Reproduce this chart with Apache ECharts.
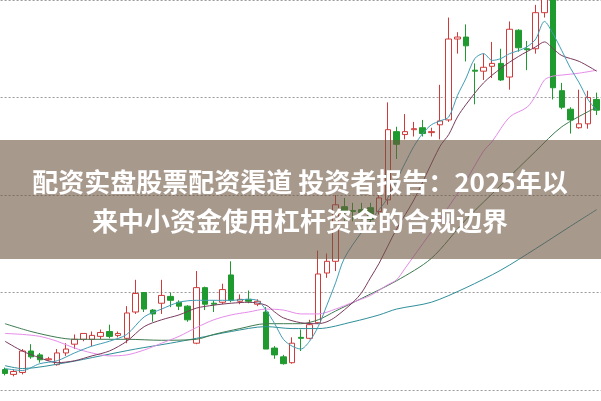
<!DOCTYPE html>
<html><head><meta charset="utf-8">
<script src="https://cdn.jsdelivr.net/npm/echarts@6/dist/echarts.min.js"></script>
<style>html,body{margin:0;padding:0;background:#fff}#c{width:601px;height:401px}</style>
</head><body><div id="c"></div>
<script>
// candles: [open, close, low, high]
const candles = [
[8.21,8.17,8.15,8.23],[8.16,8.19,8.14,8.21],[8.18,8.40,8.16,8.42],[8.40,8.34,8.32,8.47],[8.36,8.31,8.28,8.38],
[8.31,8.32,8.30,8.34],[8.26,8.38,8.25,8.42],[8.38,8.42,8.35,8.48],[8.47,8.52,8.42,8.57],[8.52,8.58,8.50,8.58],
[8.52,8.56,8.45,8.60],[8.55,8.59,8.52,8.62],[8.60,8.55,8.53,8.67],[8.56,8.58,8.54,8.60],[8.53,8.79,8.48,8.86],
[8.80,8.99,8.78,9.13],[9.00,8.83,8.80,9.00],[8.82,8.78,8.70,8.83],[8.89,8.97,8.78,9.13],[8.96,8.92,8.85,9.00],
[8.90,8.86,8.82,8.92],[8.86,8.72,8.70,8.87],[8.48,9.05,8.47,9.22],[9.05,8.88,8.82,9.06],[8.89,8.88,8.80,8.92],
[8.90,9.03,8.88,9.09],[9.18,8.92,8.90,9.32],[8.91,8.93,8.88,8.98],[8.93,8.91,8.89,9.02],[8.88,8.91,8.86,8.93],
[8.80,8.42,8.42,8.85],[8.43,8.36,8.32,8.45],[8.34,8.27,8.26,8.36],[8.28,8.48,8.27,8.54],[8.54,8.53,8.40,8.62],
[8.53,8.67,8.52,8.72],[8.69,9.19,8.68,9.43],[9.20,9.32,9.15,9.40],[9.32,9.90,9.22,10.00],[9.88,9.82,9.73,9.97],
[9.84,9.83,9.73,9.92],[9.85,9.82,9.75,9.92],[9.87,9.75,9.70,9.92],[9.83,9.97,9.80,10.03],[9.95,10.67,9.90,10.95],
[10.65,10.52,10.37,10.70],[10.62,10.65,10.57,10.83],[10.67,10.68,10.60,10.75],[10.69,10.63,10.60,10.77],[10.64,10.65,10.60,10.69],
[10.72,10.76,10.57,11.13],[10.77,11.60,10.75,11.82],[11.60,11.62,11.45,11.67],[11.62,11.53,11.37,11.75],[11.28,11.27,10.93,11.35],
[11.27,11.31,11.18,11.45],[11.32,11.35,11.20,11.57],[11.35,11.18,11.17,11.50],[11.21,11.70,11.08,11.78],[11.69,11.51,11.47,11.70],
[11.50,11.49,11.28,11.58],[11.50,11.87,11.45,11.95],[11.87,12.05,11.82,12.20],[12.00,11.10,10.98,12.10],[11.07,10.90,10.88,11.15],
[10.88,10.77,10.63,10.90],[10.69,10.73,10.68,11.08],[10.73,11.00,10.68,11.07],[10.98,10.87,10.82,11.05]
];
const categories = candles.map((_, i) => 'D' + (i + 1));
// moving-average lines: [candle index, value]
const maFast = [[0,8.22],[2,8.20],[4,8.27],[6,8.30],[8,8.38],[10,8.45],[12,8.50],[14,8.57],[16,8.75],[18,8.83],[20,8.90],[22,8.92],[24,8.92],[26,8.92],[28,8.93],[29,8.92],[30,8.82],[31,8.68],[32,8.52],[33,8.45],[34,8.42],[35,8.50],[36,8.65],[37,8.87],[38,9.10],[39,9.35],[41,9.62],[43,9.85],[44,9.97],[45,10.15],[46,10.33],[47,10.50],[48,10.63],[49,10.72],[50,10.76],[51,10.80],[52,11.02],[53,11.20],[54,11.40],[55,11.45],[56,11.38],[57,11.40],[58,11.45],[59,11.48],[60,11.52],[61,11.60],[62,11.78],[63,11.65],[64,11.48],[65,11.30],[66,11.15],[67,10.98],[68,10.87]];
const ma10 = [[0,8.50],[2,8.40],[4,8.33],[6,8.28],[8,8.30],[10,8.35],[12,8.40],[14,8.50],[16,8.65],[18,8.72],[20,8.77],[22,8.84],[24,8.87],[26,8.89],[28,8.90],[30,8.87],[31,8.80],[32,8.74],[34,8.69],[36,8.68],[37,8.70],[38,8.75],[40,8.90],[41,9.00],[42,9.15],[43,9.30],[45,9.65],[47,9.95],[50,10.50],[51,10.62],[52,10.80],[53,10.93],[55,11.15],[57,11.30],[59,11.42],[61,11.52],[62,11.57],[63,11.50],[64,11.43],[66,11.37],[68,11.27]];
const ma20 = [[0,8.58],[2,8.57],[4,8.55],[6,8.50],[8,8.43],[10,8.38],[12,8.35],[14,8.36],[16,8.41],[18,8.48],[20,8.55],[22,8.64],[24,8.72],[26,8.77],[28,8.80],[30,8.83],[32,8.82],[34,8.78],[36,8.78],[38,8.83],[40,8.90],[42,8.97],[44,9.08],[45,9.13],[46,9.25],[50,9.75],[53,10.15],[55,10.45],[56,10.55],[58,10.80],[60,10.90],[61,11.02],[62,11.18],[63,11.22],[64,11.23],[66,11.25],[68,11.28]];
const ma30 = [[0,8.68],[3,8.60],[6,8.54],[8,8.52],[14,8.52],[18,8.51],[22,8.52],[24,8.57],[27,8.63],[30,8.68],[34,8.68],[36,8.72],[38,8.81],[41,8.94],[45,9.12],[49,9.35],[53,9.75],[57,10.10],[61,10.45],[64,10.70],[68,10.90]];
const ma60 = [[0,8.25],[2,8.22],[7,8.28],[11,8.35],[15,8.42],[19,8.48],[22,8.53],[26,8.60],[30,8.65],[33,8.63],[36,8.63],[40,8.70],[43,8.77],[45,8.83],[49,8.90],[53,9.05],[57,9.23],[61,9.45],[65,9.68],[68,9.85]];
const titleLines = ['配资实盘股票配资渠道 投资者报告：2025年以', '来中小资金使用杠杆资金的合规边界'];

const chart = echarts.init(document.getElementById('c'), null, {renderer: 'canvas'});
function ma(name, data, color) {
  return {name, type: 'line', data, smooth: 0.3, symbol: 'none', z: 3,
    lineStyle: {color, width: 1}};
}
chart.setOption({
  animation: false,
  backgroundColor: '#ffffff',
  grid: {left: 0.6, right: -2.3, top: -10, bottom: 11},
  xAxis: {type: 'category', data: categories, boundaryGap: true,
    axisLine: {show: false}, axisTick: {show: false}, axisLabel: {show: false}, splitLine: {show: false}},
  yAxis: {type: 'value', min: 8, max: 12, interval: 1,
    axisLine: {show: false}, axisTick: {show: false}, axisLabel: {show: false},
    splitLine: {show: true, lineStyle: {type: [2, 2], color: '#9a9a9a', width: 1}}},
  series: [
    {type: 'candlestick', data: candles, barWidth: 6, z: 2,
      itemStyle: {color: '#ffffff', color0: '#1f9a2e', borderColor: '#d03a3a', borderColor0: '#1f9a2e', borderWidth: 1}},
    ma('MA60', ma60, '#2f8f9a'),
    ma('MA30', ma30, '#3d7a50'),
    ma('MA20', ma20, '#e58ce8'),
    ma('MA10', ma10, '#7a3b5e'),
    ma('MA5', maFast, '#3f9db5')
  ],
  graphic: [
    {type: 'rect', left: 0, top: 140, shape: {width: 601, height: 119}, style: {fill: 'rgba(110,85,65,0.6)'}, z: 100},
    {type: 'text', x: 300, y: 182, z: 101, style: {text: titleLines[0], fill: '#ffffff', font: 'bold 26px "Noto Sans CJK SC"', textAlign: 'center', textVerticalAlign: 'middle'}},
    {type: 'text', x: 300, y: 221, z: 101, style: {text: titleLines[1], fill: '#ffffff', font: 'bold 26px "Noto Sans CJK SC"', textAlign: 'center', textVerticalAlign: 'middle'}}
  ]
});
</script></body></html>
